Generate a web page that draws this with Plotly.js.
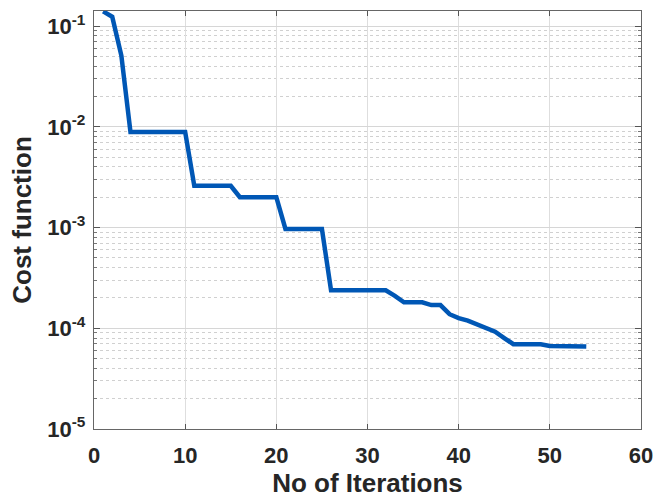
<!DOCTYPE html>
<html>
<head>
<meta charset="utf-8">
<script src="https://cdn.plot.ly/plotly-3.0.1.min.js"></script>
<style>
  html, body { margin: 0; padding: 0; background: #fff; }
  #chart { width: 656px; height: 498px; }
</style>
</head>
<body>
<div id="chart"></div>
<script>
// Convergence history of the optimiser
const iterations = [
  1, 2, 3, 4, 5, 6, 7, 8, 9, 10,
  11, 12, 13, 14, 15, 16, 17, 18, 19, 20,
  21, 22, 23, 24, 25, 26, 27, 28, 29, 30,
  31, 32, 33, 34, 35, 36, 37, 38, 39, 40,
  41, 42, 43, 44, 45, 46, 47, 48, 49, 50,
  51, 52, 53, 54
];
const cost = [
  0.14, 0.124, 0.051, 0.0089, 0.0089, 0.0089, 0.0089, 0.0089, 0.0089, 0.0089,
  0.0026, 0.0026, 0.0026, 0.0026, 0.0026, 0.002, 0.002, 0.002, 0.002, 0.002,
  0.00097, 0.00097, 0.00097, 0.00097, 0.00097, 0.000238, 0.000238, 0.000238, 0.000238, 0.000238,
  0.000238, 0.000238, 0.00021, 0.000181, 0.000181, 0.000181, 0.00017, 0.00017, 0.000138, 0.000126,
  0.000119, 0.00011, 0.000101, 0.0000925, 0.00008, 0.0000695, 0.0000695, 0.0000695, 0.0000695, 0.0000668,
  0.0000665, 0.0000662, 0.000066, 0.0000658
];

const xTicks = [0, 10, 20, 30, 40, 50, 60];
const yTicks = [1e-5, 1e-4, 1e-3, 1e-2, 1e-1];
const yTickText = ['10<sup>-5</sup>', '10<sup>-4</sup>', '10<sup>-3</sup>', '10<sup>-2</sup>', '10<sup>-1</sup>'];

const labelFont = { family: 'Liberation Sans, Arial, sans-serif', size: 22, color: '#262626', weight: 'bold' };
const titleFont = { family: 'Liberation Sans, Arial, sans-serif', size: 26, color: '#262626', weight: 'bold' };

const trace = {
  x: iterations,
  y: cost,
  type: 'scatter',
  mode: 'lines',
  line: { color: '#0057b5', width: 4.5 },
  hoverinfo: 'skip'
};

const layout = {
  width: 656,
  height: 498,
  margin: { l: 94, r: 15, t: 11, b: 69 },
  paper_bgcolor: '#ffffff',
  plot_bgcolor: '#ffffff',
  showlegend: false,
  xaxis: {
    range: [0, 60],
    tickvals: xTicks,
    ticktext: xTicks.map(String),
    ticks: 'inside',
    ticklen: 5,
    tickcolor: '#555',
    ticklabelstandoff: 6,
    showline: true,
    linecolor: '#666',
    linewidth: 1.2,
    mirror: 'ticks',
    showgrid: true,
    gridcolor: '#dedede',
    gridwidth: 1,
    zeroline: false,
    tickfont: labelFont,
    title: { text: 'No of Iterations', font: titleFont, standoff: 4 }
  },
  yaxis: {
    type: 'log',
    range: [-5, -0.85],
    tickvals: yTicks,
    ticktext: yTickText,
    ticks: 'inside',
    ticklen: 6,
    tickcolor: '#555',
    ticklabelstandoff: 3,
    showline: true,
    linecolor: '#666',
    linewidth: 1.2,
    mirror: 'ticks',
    showgrid: true,
    gridcolor: '#d6d6d6',
    gridwidth: 1,
    zeroline: false,
    tickfont: labelFont,
    minor: {
      dtick: 'D1',
      ticks: 'inside',
      ticklen: 3,
      tickcolor: '#777',
      showgrid: true,
      gridcolor: '#d0d0d0',
      griddash: 'dot',
      gridwidth: 1
    },
    title: { text: 'Cost function', font: titleFont, standoff: 8 }
  }
};

Plotly.newPlot('chart', [trace], layout, { staticPlot: true, displayModeBar: false });
</script>
</body>
</html>
